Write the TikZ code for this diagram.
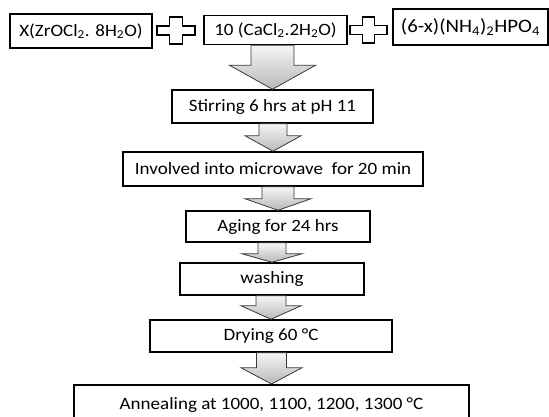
\documentclass[tikz,border=0pt]{standalone}
\usepackage{fontspec}
\setmainfont{Carlito}
\usetikzlibrary{calc}
\newcommand\hs[1]{\scalebox{1.1}[1]{#1}}
\newcommand\sub[1]{\textsubscript{#1}}
\tikzset{
  box/.style={draw=black, line width=1.5pt, fill=white, inner sep=0pt,
    font=\fontsize{17.3}{20}\selectfont},
  blockarrow/.style={top color=gray!8, bottom color=gray!55,
    draw=gray!45!black, line width=0.8pt},
  plussign/.style={draw=black, fill=white, line width=1.5pt, line join=miter}
}
\newcommand\blk[5]{%
  \path[blockarrow] let \p1=(#1.south), \p2=(#2.north) in
  (\x2-#3,\y1) -- (\x2+#3,\y1) -- (\x2+#3,\y1-#5) -- (\x2+#4,\y1-#5)
  -- (\x2,\y2) -- (\x2-#4,\y1-#5) -- (\x2-#3,\y1-#5) -- cycle;}
\newcommand\plusshape[8]{%
  \draw[plussign] (#2,#5)--(#3,#5)--(#3,#6)--(#4,#6)--(#4,#7)--(#3,#7)--(#3,#8)
  --(#2,#8)--(#2,#7)--(#1,#7)--(#1,#6)--(#2,#6)--cycle;}
\begin{document}
\begin{tikzpicture}[x=1pt,y=-1pt]
\useasboundingbox (0,0) rectangle (549,416);
\clip (0,0) rectangle (549,416);
\fill[white] (0,0) rectangle (549,416);

\node[box, minimum width=142pt, minimum height=34pt] (b1) at (81,31)
  {\hs{X(ZrOCl\sub{2}. 8H\sub{2}O)}};
\node[box, minimum width=143pt, minimum height=29pt] (b2) at (275.5,30)
  {\hs{10 (CaCl\sub{2}.2H\sub{2}O)}};
\node[box, minimum width=155pt, minimum height=36pt,
  font=\fontsize{19}{22}\selectfont] (b3) at (470.5,27)
  {\hs{(6-x)(NH\sub{4})\sub{2}HPO\sub{4}}};

\plusshape{157}{169.7}{182.3}{195}{17}{26}{35}{44}
\plusshape{350}{362.3}{374.7}{387}{17}{25.7}{34.3}{43}

\node[box, minimum width=201pt, minimum height=33pt] (s1) at (272.5,106.5)
  {\hs{Stirring 6 hrs at pH 11}};
\node[box, minimum width=300pt, minimum height=34pt] (s2) at (273,169)
  {\hs{Involved into microwave\ \ for 20 min}};
\node[box, minimum width=184pt, minimum height=31pt] (s3) at (278,226.5)
  {\hs{Aging for 24 hrs}};
\node[box, minimum width=184pt, minimum height=32pt] (s4) at (272,279)
  {\hs{washing}};
\node[box, minimum width=242pt, minimum height=32pt] (s5) at (271,336)
  {\hs{Drying 60 °C}};
\node[box, minimum width=395pt, minimum height=40pt, anchor=north] (s6) at (271.5,384)
  {\hs{Annealing at 1000, 1100, 1200, 1300 °C}};

\blk{b2}{s1}{21.5}{43}{20}
\blk{s1}{s2}{14}{28}{12}
\blk{s2}{s3}{16}{33}{12}
\blk{s3}{s4}{14}{30}{11}
\blk{s4}{s5}{15}{30}{10}
\blk{s5}{s6}{15}{30.5}{15}
\end{tikzpicture}
\end{document}
